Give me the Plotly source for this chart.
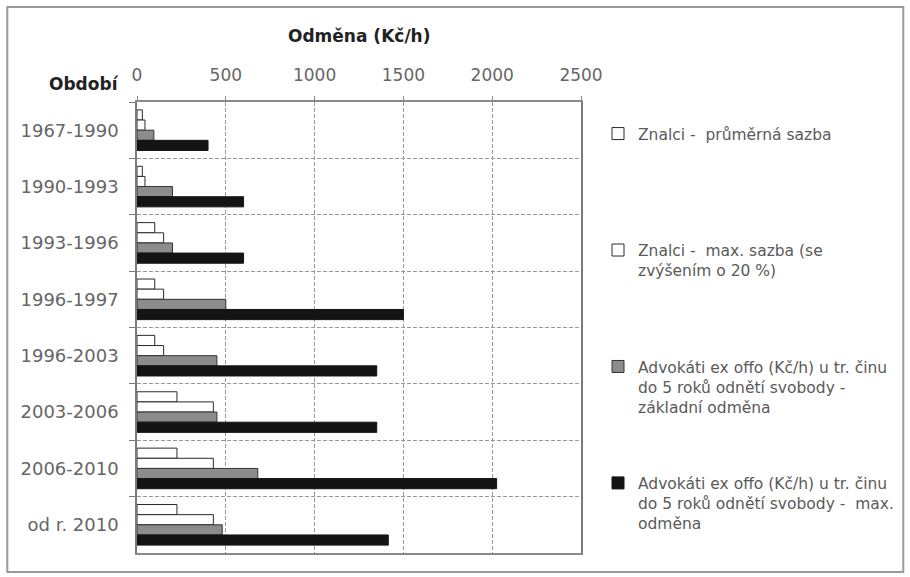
import plotly.graph_objects as go

# ---- data ----
categories = ["1967-1990", "1990-1993", "1993-1996", "1996-1997",
              "1996-2003", "2003-2006", "2006-2010", "od r. 2010"]
znalci_prumer = [30, 30, 100, 100, 100, 225, 225, 225]
znalci_max = [45, 45, 150, 150, 150, 430, 430, 430]
advokati_zakl = [95, 200, 200, 500, 450, 450, 680, 480]
advokati_max = [400, 600, 600, 1500, 1350, 1350, 2025, 1415]
x_ticks = [0, 500, 1000, 1500, 2000, 2500]

series_names = [
    "Znalci -\u00a0 průměrná sazba<br>\u00a0<br>\u00a0",
    "Znalci -\u00a0 max. sazba (se<br>zvýšením o 20 %)<br>\u00a0",
    "Advokáti ex offo (Kč/h) u tr. činu<br>do 5 roků odnětí svobody -<br>základní odměna",
    "Advokáti ex offo (Kč/h) u tr. činu<br>do 5 roků odnětí svobody -\u00a0 max.<br>odměna",
]
series_values = [znalci_prumer, znalci_max, advokati_zakl, advokati_max]
fills = ["#ffffff", "#ffffff", "#8c8c8c", "#141414"]
outlines = ["#2a2a2a", "#2a2a2a", "#333333", "#141414"]

# ---- layout geometry (pixels) ----
W, H = 910, 577
L, R, T, B = 137, 328, 102, 24
PW, PH = W - L - R, H - T - B

def px(x):
    return (x - L) / PW

def py(y):
    return 1 - (y - T) / PH

fig = go.Figure()
for i, (name, vals) in enumerate(zip(series_names, series_values)):
    fig.add_trace(go.Bar(
        y=categories, x=vals, orientation="h", name=name,
        legendgroup=f"g{i}",
        marker=dict(color=fills[i], line=dict(color=outlines[i], width=1)),
    ))

tick_font = dict(family="DejaVu Sans", size=17, color="#666666")
fig.update_layout(
    width=W, height=H,
    margin=dict(l=L, r=R, t=T, b=B),
    paper_bgcolor="white", plot_bgcolor="white",
    barmode="group", bargap=0.28, bargroupgap=0,
    showlegend=True,
    legend=dict(
        x=px(598), y=py(117), xanchor="left", yanchor="top",
        traceorder="grouped", tracegroupgap=53, valign="top",
        font=dict(family="DejaVu Sans", size=15.5, color="#5a5a5a"),
        bgcolor="rgba(0,0,0,0)", itemclick=False,
    ),
    xaxis=dict(
        side="top", range=[0, 2500], tickvals=x_ticks,
        ticktext=[str(v) for v in x_ticks],
        showgrid=True, gridcolor="#9a9a9a", griddash="4px,2px", gridwidth=1,
        zeroline=False, showline=True, linecolor="#8a8a8a", linewidth=2,
        mirror=True, ticks="outside", ticklen=4, tickcolor="#8a8a8a",
        tickfont=tick_font, ticklabelstandoff=8, fixedrange=True,
    ),
    yaxis=dict(
        autorange="reversed", type="category",
        tickson="boundaries", showgrid=True, gridcolor="#9a9a9a",
        griddash="4px,2px", gridwidth=1,
        showline=True, linecolor="#7a7a7a", linewidth=1.5, mirror=True,
        ticks="outside", ticklen=6, tickcolor="#7a7a7a",
        tickfont=dict(family="DejaVu Sans", size=18, color="#666666"),
        ticklabelstandoff=13, fixedrange=True,
    ),
)

# outer chart border
fig.add_shape(type="rect", xref="paper", yref="paper",
              x0=px(7), x1=px(905), y0=py(572), y1=py(7),
              line=dict(color="#9a9a9a", width=2), layer="below")

fig.add_annotation(text="<b>Odměna (Kč/h)</b>", xref="paper", yref="paper",
                   x=px(360), y=py(36), xanchor="center", yanchor="middle",
                   showarrow=False,
                   font=dict(family="DejaVu Sans", size=17, color="#222222"))
fig.add_annotation(text="<b>Období</b>", xref="paper", yref="paper",
                   x=px(121), y=py(84), xanchor="right", yanchor="middle",
                   showarrow=False,
                   font=dict(family="DejaVu Sans", size=17, color="#222222"))

fig.write_html("out.html", config={"displayModeBar": False},
               post_script="document.body.style.margin='0px';")
